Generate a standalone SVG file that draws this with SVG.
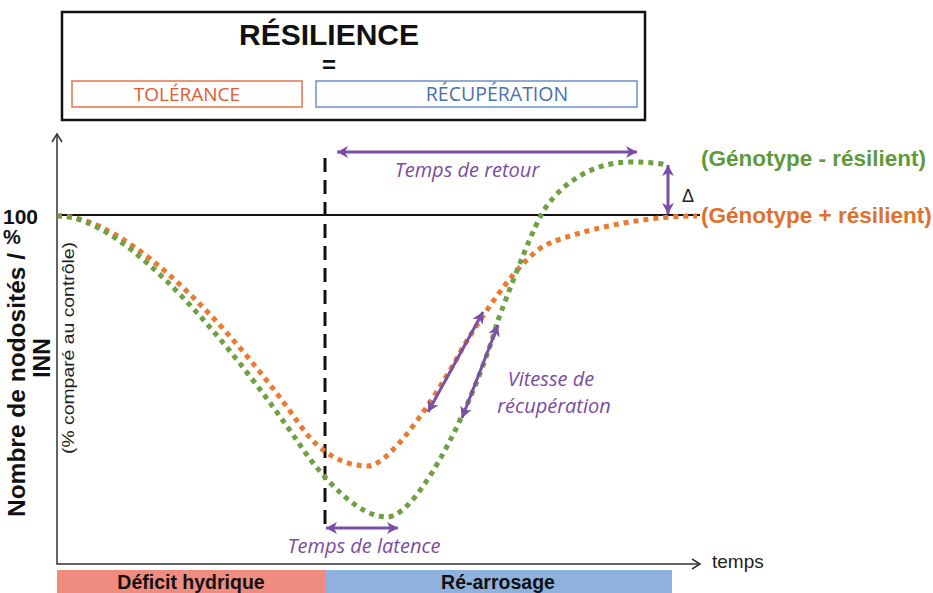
<svg xmlns="http://www.w3.org/2000/svg" width="933" height="593" viewBox="0 0 933 593">
<defs>
<style>
.b{font-family:"Liberation Sans",Arial,sans-serif;font-weight:bold;fill:#111}
.r{font-family:"Liberation Sans",Arial,sans-serif;fill:#222}
.c{font-family:"Open Sans","Liberation Sans",sans-serif}
.p{font-family:"Open Sans","Liberation Sans",sans-serif;font-style:italic;fill:#7a4ca2;font-size:20px}
.pa{stroke:#7b4fa5;stroke-width:3;fill:none}
.dot{fill:none;stroke-width:5;stroke-dasharray:5 5}
.ax{stroke:#333;stroke-width:1.5;fill:none}
</style>
<marker id="pm" viewBox="-1 -7 14 14" markerWidth="14" markerHeight="14" refX="11" refY="0" orient="auto-start-reverse" markerUnits="userSpaceOnUse">
<path d="M0,-6 L11,0 L0,6 L3,0 Z" fill="#7b4fa5"/>
</marker>
</defs>
<rect width="933" height="593" fill="#fff"/>

<g id="title-box">
<rect x="62" y="12" width="583" height="108" fill="#fff" stroke="#111" stroke-width="2.5"/>
<text class="b" x="329" y="45" font-size="30" text-anchor="middle">RÉSILIENCE</text>
<text class="b" x="329" y="73" font-size="24" text-anchor="middle">=</text>
<text class="b" x="329" y="104" font-size="26" text-anchor="middle">+</text>
</g>
<g id="tolerance">
<rect x="72" y="81" width="230" height="26" fill="#fff" stroke="#e8704a" stroke-width="1.5"/>
<text class="c" x="187" y="101" font-size="19" fill="#e05a33" text-anchor="middle">TOLÉRANCE</text>
</g>
<g id="recuperation">
<rect x="316" y="81" width="321" height="26" fill="#fff" stroke="#6c90c8" stroke-width="1.5"/>
<text class="c" x="497" y="101" font-size="19.5" fill="#4a6fb2" text-anchor="middle">RÉCUPÉRATION</text>
</g>

<g id="axes">
<path class="ax" d="M57,134 L57,564 L700,564"/>
<path class="ax" d="M52,142 L57,134 L62,142" stroke-width="2"/>
<path class="ax" d="M692,559 L700,564 L692,569" stroke-width="2"/>
<line x1="57" y1="215" x2="700" y2="215" stroke="#111" stroke-width="2"/>
<text class="b" x="3" y="224" font-size="21">100</text>
<text class="b" x="3" y="244" font-size="20">%</text>
<text class="b" transform="translate(25,385) rotate(-90)" font-size="24.5" text-anchor="middle">Nombre de nodosités /</text>
<text class="b" transform="translate(50,358) rotate(-90)" font-size="23" text-anchor="middle">INN</text>
<text class="r" transform="translate(74,348) rotate(-90)" font-size="17" text-anchor="middle" textLength="212" lengthAdjust="spacingAndGlyphs">(% comparé au contrôle)</text>
<text class="r" x="712" y="568" font-size="19">temps</text>
</g>

<g id="phases">
<rect x="57" y="570" width="268" height="23" fill="#f08b80"/>
<rect x="325" y="570" width="347" height="23" fill="#8fb1dd"/>
<text class="b" x="191" y="589" font-size="19.5" text-anchor="middle">Déficit hydrique</text>
<text class="b" x="498" y="589" font-size="19.5" text-anchor="middle">Ré-arrosage</text>
</g>

<g id="rewatering-line">
<line x1="325" y1="158" x2="325" y2="526" stroke="#111" stroke-width="3" stroke-dasharray="14 8"/>
</g>

<g id="curves">
<path id="orange-curve" class="dot" stroke="#ea7a30" d="M57,216 C130,214 240,340 300,425 C321,455 345,466 368,466 C392,466 445,382 463,347 C481,319 520,255 550,243 C580,231 640,216 697,216"/>
<path id="green-curve" class="dot" stroke="#6fa044" d="M57,216 C125,214 235,350 300,445 C326,483 360,517 387,517 C420,517 478,392 497,323 C508,293 528,241 540,217 C556,187 590,162 630,162 C645,162 658,163 667,165"/>
</g>

<g id="connectors">
<line class="pa" x1="337" y1="152" x2="637" y2="152" marker-start="url(#pm)" marker-end="url(#pm)"/>
<line class="pa" x1="668" y1="165" x2="668" y2="214" marker-start="url(#pm)" marker-end="url(#pm)"/>
<line class="pa" x1="483" y1="312" x2="428" y2="412" marker-start="url(#pm)" marker-end="url(#pm)"/>
<line class="pa" x1="498" y1="325" x2="462" y2="418" marker-start="url(#pm)" marker-end="url(#pm)"/>
<line class="pa" x1="326" y1="528" x2="398" y2="528" marker-start="url(#pm)" marker-end="url(#pm)"/>
</g>

<g id="labels">
<text class="p" x="467" y="177" text-anchor="middle">Temps de retour</text>
<text class="r" x="682" y="202" font-size="18">Δ</text>
<text class="p" x="551" y="386" text-anchor="middle">Vitesse de</text>
<text class="p" x="554" y="413" text-anchor="middle">récupération</text>
<text class="p" x="364" y="553" text-anchor="middle">Temps de latence</text>
<text class="b" x="701" y="166" font-size="22.5" style="fill:#5e9a3a">(Génotype - résilient)</text>
<text class="b" x="701" y="223" font-size="22.5" style="fill:#e0702a">(Génotype + résilient)</text>
</g>
</svg>
